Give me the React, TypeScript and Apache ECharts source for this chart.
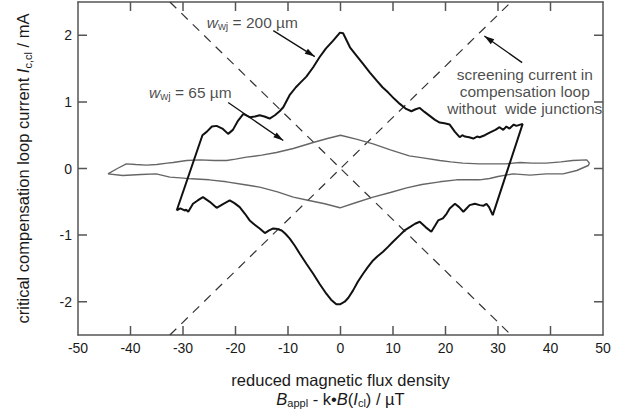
import React, { useEffect, useRef } from "react";
import * as echarts from "echarts";

// Axis ranges and tick values
const xRange = [-50, 50];
const yRange = [-2.5, 2.5];
const xTickLabels = [-50, -40, -30, -20, -10, 0, 10, 20, 30, 40, 50];
const xTickMarks = [-40, -30, -20, -10, 0, 10, 20, 30, 40];
const yTickLabels = [-2, -1, 0, 1, 2];

// w_wj = 200 µm loop (closed: left edge, upper branch, right edge, lower branch)
const loop200: [number, number][] = [
  [-31.2, -0.63], [-26.3, 0.5], [-25.5, 0.55], [-24.5, 0.63], [-23.6, 0.64], [-22.5, 0.6],
  [-21.4, 0.52], [-20.5, 0.58], [-19.5, 0.72], [-18.5, 0.82], [-17.3, 0.77], [-16.3, 0.78],
  [-15.4, 0.8], [-14.5, 0.78], [-13.5, 0.75], [-12.5, 0.8], [-11.6, 0.86], [-10.9, 0.92],
  [-9.7, 1.1], [-8.5, 1.22], [-7.5, 1.3], [-6.5, 1.38], [-5.2, 1.52], [-4.0, 1.67],
  [-2.8, 1.8], [-1.4, 1.92], [-0.1, 2.04], [0.5, 2.03], [1.8, 1.82], [3.0, 1.7],
  [4.3, 1.57], [5.6, 1.44], [6.9, 1.32], [8.0, 1.22], [9.1, 1.14], [10.2, 1.05],
  [11.3, 0.97], [12.4, 0.9], [13.5, 0.86], [14.3, 0.89], [15.1, 0.91], [16.0, 0.85],
  [17.0, 0.79], [18.0, 0.73], [18.9, 0.69], [19.8, 0.68], [20.8, 0.66], [21.8, 0.55],
  [22.7, 0.47], [23.2, 0.5], [23.7, 0.48], [24.5, 0.47], [25.3, 0.45], [26.0, 0.48],
  [26.5, 0.47], [27.5, 0.5], [28.4, 0.54], [29.5, 0.58], [30.3, 0.62], [31.0, 0.58],
  [31.6, 0.63], [32.2, 0.6], [33.0, 0.66], [33.5, 0.64], [34.7, 0.67],
  [29.0, -0.7], [28.3, -0.58], [27.8, -0.53], [27.2, -0.56], [26.5, -0.55], [25.6, -0.53],
  [24.6, -0.55], [24.0, -0.6], [23.4, -0.65], [22.6, -0.58], [21.8, -0.53], [20.8, -0.6],
  [20.2, -0.68], [19.5, -0.75], [18.6, -0.78], [18.0, -0.86], [17.3, -0.95], [16.2, -0.88],
  [15.1, -0.8], [14.2, -0.83], [13.2, -0.88], [12.2, -0.93], [11.3, -1.0], [10.0, -1.1],
  [9.0, -1.18], [8.1, -1.25], [7.0, -1.32], [6.2, -1.38], [5.2, -1.48], [4.3, -1.58],
  [3.3, -1.7], [2.4, -1.83], [1.5, -1.94], [0.8, -2.0], [-0.1, -2.04], [-0.8, -2.04],
  [-1.8, -1.97], [-2.7, -1.88], [-4.0, -1.73], [-5.2, -1.58], [-6.5, -1.43], [-7.75, -1.28],
  [-8.7, -1.16], [-9.7, -1.05], [-10.5, -0.98], [-11.2, -0.93], [-12.0, -0.91], [-12.8, -0.9],
  [-13.6, -0.93], [-14.4, -0.97], [-15.4, -0.9], [-16.4, -0.84], [-17.3, -0.78], [-18.2, -0.68],
  [-19.2, -0.58], [-20.2, -0.52], [-21.1, -0.48], [-22.3, -0.53], [-23.6, -0.59], [-24.9, -0.5],
  [-26.2, -0.43], [-27.2, -0.48], [-28.1, -0.53], [-29.0, -0.65], [-29.4, -0.62], [-29.7, -0.63],
  [-30.5, -0.6], [-31.2, -0.63],
];

// w_wj = 65 µm loop
const loop65: [number, number][] = [
  [-44.3, -0.08], [-42.5, 0.0], [-40.8, 0.07], [-39, 0.06], [-37, 0.05], [-35, 0.06],
  [-33, 0.08], [-31.9, 0.09], [-29.3, 0.12], [-26.8, 0.13], [-24, 0.12], [-21.7, 0.12],
  [-20, 0.14], [-17.9, 0.17], [-15, 0.2], [-12.2, 0.24], [-9, 0.3], [-5.2, 0.39],
  [-2.5, 0.45], [0, 0.5], [3, 0.44], [6.2, 0.37], [9.5, 0.28], [13.1, 0.19],
  [15.7, 0.16], [18.9, 0.12], [21, 0.1], [23.3, 0.08], [26.5, 0.07], [28.4, 0.07],
  [31.5, 0.07], [34.2, 0.09], [36.5, 0.08], [39.2, 0.08], [42, 0.1], [44.2, 0.12],
  [46.9, 0.13], [47.4, 0.08],
  [47.2, 0.045], [45, -0.03], [42.4, -0.08], [39.2, -0.08], [36.1, -0.1], [32.9, -0.08],
  [30, -0.12], [28.4, -0.15], [26.5, -0.17], [22.1, -0.17], [18.9, -0.2], [15.5, -0.24],
  [12.6, -0.29], [9.5, -0.36], [6.2, -0.43], [3, -0.51], [-0.1, -0.59], [-3, -0.53],
  [-6, -0.48], [-9, -0.43], [-12, -0.35], [-15.4, -0.28], [-18.5, -0.24], [-21.7, -0.2],
  [-25, -0.17], [-28.4, -0.155], [-30.5, -0.14], [-32.5, -0.13], [-35.1, -0.08], [-38, -0.09],
  [-41.5, -0.105], [-44.3, -0.08],
];

// Screening current without wide junctions (dashed)
const screeningDown: [number, number][] = [[-32.5, 2.5], [32.5, -2.5]];
const screeningUp: [number, number][] = [[-32.5, -2.5], [32.5, 2.5]];

// Annotation arrows [x1, y1, x2, y2] (head at x2, y2)
const arrows: number[][] = [
  [-12.8, 2.07, -4.9, 1.68],
  [-21.4, 0.99, -10.9, 0.42],
  [34.6, 1.59, 27.4, 1.99],
];

// Annotation texts
const notes = [
  { pos: [-16.8, 2.19], text: "{i|w}{sub|wj} = 200 µm" },
  { pos: [-28.6, 1.14], text: "{i|w}{sub|wj} = 65 µm" },
  { pos: [35.1, 1.15], text: "screening current in\ncompensation loop\nwithout  wide junctions" },
];

const FONT = "'Liberation Sans', Arial, sans-serif";
const AX = "#555";
const TXT = "#1a1a1a";

const GRID = { left: 78, right: 23, top: 2, bottom: 81 };
const KX = (626 - GRID.left - GRID.right) / (xRange[1] - xRange[0]);
const KY = (416 - GRID.top - GRID.bottom) / (yRange[1] - yRange[0]);
const TICK_PX = 9;

const richBase = (size: number, lh: number) => ({
  i: { fontStyle: "italic" as const, fontSize: size, lineHeight: lh, fontFamily: FONT, color: TXT },
  n: { fontSize: size, lineHeight: lh, fontFamily: FONT, color: TXT },
  sub: { fontSize: Math.round(size * 0.68), lineHeight: Math.round(size * 0.68), verticalAlign: "bottom" as const, fontFamily: FONT, color: TXT },
});

const mkAxisLine = () => ({ show: true, onZero: false, lineStyle: { color: AX, width: 1.5 } });

export default function App() {
  const ref = useRef<HTMLDivElement>(null);
  useEffect(() => {
    document.body.style.margin = "0";
    if (!ref.current) return;
    const chart = echarts.init(ref.current, undefined, { renderer: "svg" });

    const ty = TICK_PX / KY;
    const tx = TICK_PX / KX;
    // all tick marks in one line series, separated by gaps
    const tickPts: any[] = [];
    xTickMarks.forEach((v) => {
      tickPts.push([v, yRange[0]], [v, yRange[0] + ty], "-");
      tickPts.push([v, yRange[1]], [v, yRange[1] - ty], "-");
    });
    yTickLabels.forEach((v) => {
      tickPts.push([xRange[0], v], [xRange[0] + tx, v], "-");
      tickPts.push([xRange[1], v], [xRange[1] - tx, v], "-");
    });

    const HEAD_L = 10, HEAD_W = 6;
    const heads = arrows.map((a) => {
      const dxp = (a[2] - a[0]) * KX;
      const dyUp = (a[3] - a[1]) * KY;
      const len = Math.sqrt(dxp * dxp + dyUp * dyUp) || 1;
      const ux = dxp / len, uyDown = -dyUp / len;
      const theta = (Math.atan2(dyUp, dxp) * 180) / Math.PI;
      return {
        value: [a[2], a[3]],
        symbolRotate: theta - 90,
        symbolOffset: [-ux * HEAD_L / 2, -uyDown * HEAD_L / 2],
      };
    });
    const shaftPts: any[] = [];
    arrows.forEach((a) => shaftPts.push([a[0], a[1]], [a[2], a[3]], "-"));

    const option: any = {
      animation: false,
      backgroundColor: "#ffffff",
      grid: GRID,
      xAxis: [
        {
          type: "value", min: xRange[0], max: xRange[1], position: "bottom",
          axisLine: mkAxisLine(), splitLine: { show: false }, axisTick: { show: false },
          axisLabel: { customValues: xTickLabels, margin: 6, fontSize: 14, color: TXT, fontFamily: FONT },
          name: "reduced magnetic flux density\n{i|B}{sub|appl} - k•{i|B}({i|I}{sub|cl}) / µT",
          nameLocation: "middle", nameGap: 35,
          nameTextStyle: { fontSize: 16.5, lineHeight: 19, color: TXT, fontFamily: FONT, rich: richBase(16.5, 19) },
        },
        {
          type: "value", min: xRange[0], max: xRange[1], position: "top",
          axisLine: mkAxisLine(), splitLine: { show: false }, axisTick: { show: false },
          axisLabel: { show: false },
        },
      ],
      yAxis: [
        {
          type: "value", min: yRange[0], max: yRange[1], position: "left",
          axisLine: mkAxisLine(), splitLine: { show: false }, axisTick: { show: false },
          axisLabel: { customValues: yTickLabels, margin: 6, fontSize: 14, color: TXT, fontFamily: FONT },
          name: "critical compensation loop current {i|I}{sub|c,cl} / mA",
          nameLocation: "middle", nameGap: 45,
          nameTextStyle: { fontSize: 16.5, lineHeight: 20, color: TXT, fontFamily: FONT, rich: richBase(16.5, 20) },
        },
        {
          type: "value", min: yRange[0], max: yRange[1], position: "right",
          axisLine: mkAxisLine(), splitLine: { show: false }, axisTick: { show: false },
          axisLabel: { show: false },
        },
      ],
      series: [
        {
          type: "line", data: screeningDown, showSymbol: false, silent: true,
          lineStyle: { color: "#333", width: 1.2, type: [9, 7] },
        },
        {
          type: "line", data: screeningUp, showSymbol: false, silent: true,
          lineStyle: { color: "#333", width: 1.2, type: [9, 7] },
        },
        {
          type: "line", data: loop65, showSymbol: false, silent: true,
          lineStyle: { color: "#666", width: 1.4 },
        },
        {
          type: "line", data: loop200, showSymbol: false, silent: true,
          lineStyle: { color: "#111", width: 2 },
        },
        {
          type: "line", data: tickPts, showSymbol: false, silent: true, connectNulls: false,
          lineStyle: { color: AX, width: 1.5 },
        },
        {
          type: "line", data: shaftPts, showSymbol: false, silent: true, connectNulls: false,
          lineStyle: { color: "#111", width: 1.3 },
        },
        {
          type: "scatter", data: heads, silent: true,
          symbol: "triangle", symbolSize: [HEAD_W, HEAD_L],
          itemStyle: { color: "#111", opacity: 1 },
        },
        {
          type: "scatter", symbolSize: 0, silent: true,
          data: notes.map((n) => ({
            value: n.pos,
            label: {
              show: true, position: "inside", formatter: n.text,
              fontSize: 15.5, lineHeight: 17, color: TXT, fontFamily: FONT, align: "center",
              rich: richBase(15.5, 17),
            },
          })),
        },
      ],
    };
    chart.setOption(option);
    return () => chart.dispose();
  }, []);
  return <div ref={ref} style={{ width: 626, height: 416 }} />;
}
